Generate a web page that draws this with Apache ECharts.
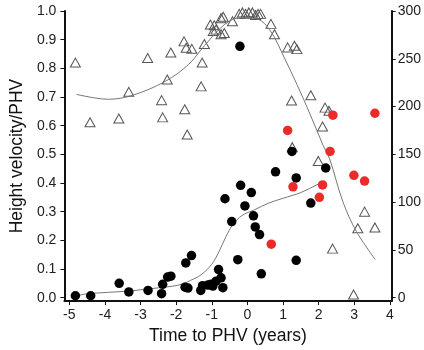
<!DOCTYPE html>
<html>
<head>
<meta charset="utf-8">
<script src="https://cdn.jsdelivr.net/npm/echarts@6/dist/echarts.min.js"></script>
<style>
html,body{margin:0;padding:0;background:#fff;}
#c{width:424px;height:350px;}
</style>
</head>
<body>
<div id="c"></div>
<script>
// Open triangles: [time to PHV, height velocity/PHV] (left axis)
var trianglePoints = [
  [-4.83,0.82],[-4.42,0.612],[-3.61,0.625],[-3.33,0.718],[-2.80,0.836],[-2.41,0.689],[-2.38,0.629],
  [-2.25,0.761],[-2.15,0.855],[-1.78,0.894],[-1.76,0.657],[-1.72,0.872],[-1.69,0.569],[-1.56,0.868],
  [-1.30,0.737],[-1.27,0.820],[-1.21,0.885],[-1.04,0.953],[-0.96,0.930],[-0.93,0.950],[-0.88,0.935],
  [-0.74,0.919],[-0.65,0.923],[-0.74,0.975],[-0.68,0.980],[-0.42,0.964],[-0.23,0.990],[-0.14,0.995],
  [-0.05,0.990],[0.04,0.995],[0.14,0.995],[0.23,0.986],[0.30,0.990],[0.37,0.990],[0.66,0.955],
  [0.76,0.919],[1.13,0.873],[1.32,0.879],[1.39,0.867],[1.24,0.688],[1.78,0.706],[2.18,0.663],
  [2.29,0.652],[2.11,0.597],[1.99,0.477],[1.26,0.525],[3.29,0.300],[3.10,0.242],[3.58,0.245],
  [2.39,0.171],[2.98,0.011]
];
// Black circles: [time to PHV, right-axis value]
var blackPoints = [
  [-4.83,2],[-4.40,2],[-3.60,15],[-3.33,6],[-2.79,7.6],[-2.41,4.2],[-2.38,14],[-2.24,21.5],[-2.15,22.5],
  [-1.75,11],[-1.73,36.3],[-1.67,10],[-1.57,44],[-1.31,7.6],[-1.26,12.5],[-1.11,13.2],[-1.02,14],
  [-0.97,12.1],[-0.88,17.3],[-0.81,29.4],[-0.74,20.8],[-0.69,10.4],[-0.63,103.5],[-0.44,79.6],
  [-0.27,39.8],[-0.21,263],[-0.19,117.6],[-0.07,96],[0.11,110],[0.17,85.6],[0.22,74],[0.34,66],
  [0.39,24.9],[0.79,131.7],[1.25,153],[1.37,125.3],[1.37,39.1],[1.78,99],[2.20,135.7]
];
// Red circles: [time to PHV, right-axis value]
var redPoints = [
  [0.67,56],[1.13,175],[1.28,116],[2.02,105],[2.11,118],[2.32,153],[2.40,191],[2.99,128],[3.29,122],[3.58,193]
];
// Fitted curve through triangles (left axis)
var triangleFit = [
  [-4.8,0.709],[-4.3,0.697],[-3.9,0.692],[-3.2,0.707],[-2.3,0.755],[-1.65,0.814],[-1.2,0.88],
  [-0.65,0.952],[-0.19,0.977],[0.28,0.972],[0.65,0.93],[1.04,0.836],[1.39,0.744],[1.76,0.64],
  [2.13,0.53],[2.31,0.484],[2.68,0.335],[3.06,0.231],[3.59,0.133]
];
// Fitted curve through black circles (right axis)
var blackFit = [
  [-4.85,1.5],[-4.5,4],[-3.3,7],[-2.9,8.7],[-2.1,12],[-1.85,14],[-1.6,18],[-1.3,24],[-1.0,35],
  [-0.8,48],[-0.6,64],[-0.4,77],[-0.15,86],[0.2,92],[0.6,99],[1.0,104],[1.5,110],[2.0,119],[2.17,122]
];
var xTicks = [-5,-4,-3,-2,-1,0,1,2,3,4];
var leftTicks = [0,0.1,0.2,0.3,0.4,0.5,0.6,0.7,0.8,0.9,1.0];
var rightTicks = [0,50,100,150,200,250,300];

var FONT = "'Liberation Sans', Arial, sans-serif";
var chart = echarts.init(document.getElementById('c'), null, {renderer:'canvas'});
chart.setOption({
  backgroundColor:'#fff',
  animation:false,
  grid:{left:62, right:31, top:11, bottom:46.5},
  xAxis:{
    type:'value', min:-5.14, max:4.05,
    name:'Time to PHV (years)', nameLocation:'middle', nameGap:22,
    nameTextStyle:{fontFamily:FONT, fontSize:17.5, color:'#111'},
    axisLine:{onZero:false, lineStyle:{color:'#111', width:2}},
    axisTick:{show:true, length:4, customValues:xTicks, lineStyle:{color:'#111', width:1}},
    axisLabel:{customValues:xTicks, fontFamily:FONT, fontSize:14, color:'#222', margin:7},
    splitLine:{show:false}
  },
  yAxis:[{
    type:'value', min:-0.012, max:1.0, position:'left',
    name:'Height velocity/PHV', nameLocation:'middle', nameGap:36, nameRotate:90,
    nameTextStyle:{fontFamily:FONT, fontSize:17.5, color:'#111'},
    axisLine:{show:true, onZero:false, lineStyle:{color:'#111', width:2}},
    axisTick:{show:true, length:4, customValues:leftTicks, lineStyle:{color:'#111', width:1}},
    axisLabel:{customValues:leftTicks, fontFamily:FONT, fontSize:14, color:'#222', margin:8,
      formatter:function(v){return v.toFixed(1);}},
    splitLine:{show:false}
  },{
    type:'value', min:-3.6, max:300, position:'right',
    axisLine:{show:true, onZero:false, lineStyle:{color:'#111', width:2}},
    axisTick:{show:true, length:4, customValues:rightTicks, lineStyle:{color:'#111', width:1}},
    axisLabel:{customValues:rightTicks, fontFamily:FONT, fontSize:14, color:'#222', margin:6},
    splitLine:{show:false}
  }],
  series:[
    {type:'scatter', yAxisIndex:0, data:trianglePoints, symbol:'triangle', symbolSize:[10,9],
      itemStyle:{color:'rgba(255,255,255,0)', borderColor:'#555', borderWidth:1, opacity:1}, z:2},
    {type:'line', yAxisIndex:0, data:triangleFit, smooth:0.35, showSymbol:false,
      lineStyle:{color:'#777', width:1}, z:3},
    {type:'line', yAxisIndex:1, data:blackFit, smooth:0.35, showSymbol:false,
      lineStyle:{color:'#777', width:1}, z:3},
    {type:'scatter', yAxisIndex:1, data:blackPoints, symbol:'circle', symbolSize:9.5,
      itemStyle:{color:'#000', opacity:1}, z:4},
    {type:'scatter', yAxisIndex:1, data:redPoints, symbol:'circle', symbolSize:9.5,
      itemStyle:{color:'#eb2a2a', opacity:1}, z:5}
  ]
});
</script>
</body>
</html>
